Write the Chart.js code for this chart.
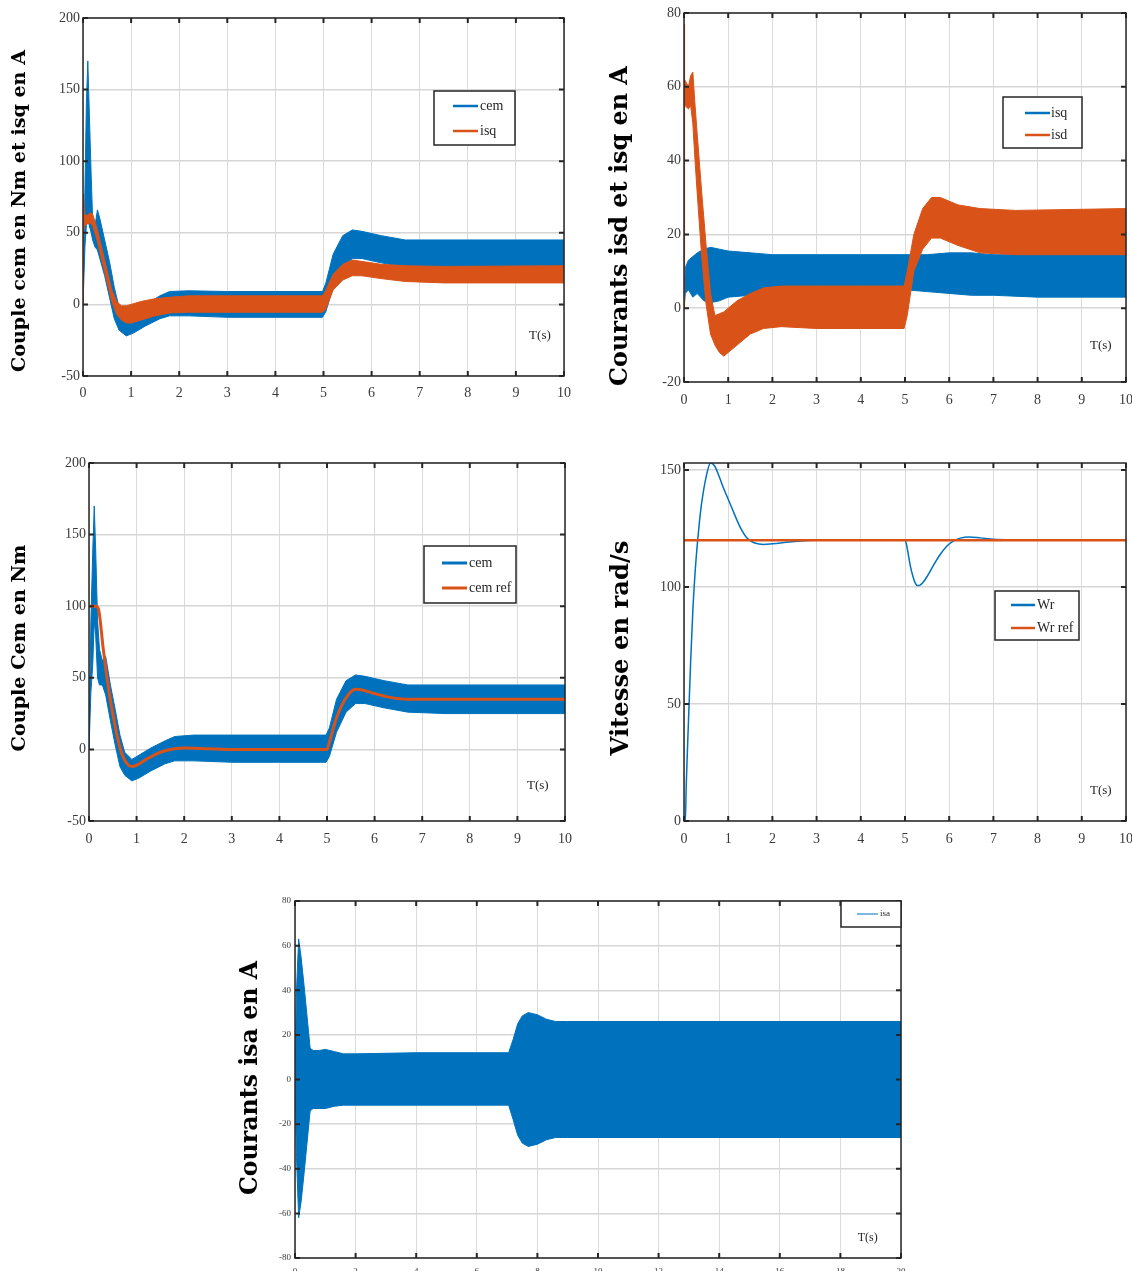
<!DOCTYPE html>
<html>
<head>
<meta charset="utf-8">
<script src="https://cdn.jsdelivr.net/npm/chart.js@4.4.1/dist/chart.umd.min.js"></script>
<style>
  body { margin: 0; background: #fff; width: 1132px; height: 1271px; position: relative; overflow: hidden; }
  .cell { position: absolute; }
</style>
</head>
<body>
<div class="cell" style="left:0px;top:0px"><canvas id="c1" width="580" height="420"></canvas></div>
<div class="cell" style="left:600px;top:0px"><canvas id="c2" width="532" height="420"></canvas></div>
<div class="cell" style="left:0px;top:450px"><canvas id="c3" width="580" height="410"></canvas></div>
<div class="cell" style="left:600px;top:450px"><canvas id="c4" width="532" height="410"></canvas></div>
<div class="cell" style="left:230px;top:890px"><canvas id="c5" width="680" height="381"></canvas></div>
<script>
// ---- donnees (enveloppes haute / basse des bandes bruitees) ----

// graphe 1 : cem et isq
const t1Cem  = [0, 0.04, 0.07, 0.1, 0.13, 0.17, 0.2, 0.25, 0.3, 0.35, 0.45, 0.55, 0.65, 0.75, 0.9, 1.05, 1.3, 1.6, 1.8, 2.2, 3, 4, 4.98, 5.05, 5.2, 5.4, 5.6, 5.8, 6.2, 6.7, 7.5, 10];
const cemHi1 = [0, 80, 140, 170, 135, 90, 60, 55, 66, 60, 45, 30, 12, -2, -7, -5, 0, 6, 9, 9.5, 9, 9, 9, 15, 35, 48, 52, 51, 48, 45, 45, 45];
const cemLo1 = [0, 40, 55, 60, 55, 50, 45, 40, 38, 32, 20, 5, -10, -18, -22, -20, -15, -10, -8, -8, -9, -9, -9, -5, 12, 26, 32, 32, 29, 26, 25, 25];
const t1Isq  = [0, 0.01, 0.03, 0.08, 0.15, 0.2, 0.3, 0.4, 0.5, 0.6, 0.7, 0.8, 0.9, 1.0, 1.2, 1.5, 1.8, 2.2, 3, 4, 4.98, 5.05, 5.2, 5.4, 5.6, 5.8, 6.2, 6.7, 7.5, 10];
const isqHi1 = [0, 77, 63, 62, 64, 63, 52, 38, 24, 10, 2, -1, -1, 0, 2, 4, 5, 6, 6, 6, 6, 10, 21, 28, 31, 30, 28, 27, 26.5, 27];
const isqLo1 = [0, 50, 55, 56, 57, 55, 44, 30, 16, 2, -7, -11, -13, -13, -11, -8, -6, -5.5, -5.5, -5.5, -5.5, -3, 10, 17, 20, 20, 18, 16, 15, 15];

// graphe 2 : isq et isd
const t2Isq  = [0, 0.03, 0.1, 0.2, 0.3, 0.45, 0.6, 0.8, 1.0, 1.5, 2, 3, 4, 5, 5.5, 6, 6.5, 7, 8, 10];
const isqHi2 = [0, 11, 13, 14, 15, 16, 16.5, 16, 15.5, 15, 14.5, 14.5, 14.5, 14.5, 14.5, 15, 15, 14.5, 14.5, 14.5];
const isqLo2 = [0, 4, 5, 3, 4, 2, 1.5, 2, 3, 3.5, 4.5, 5, 5, 5, 4.5, 4, 3.5, 3.5, 3, 3];
const t2Isd  = [0, 0.005, 0.02, 0.1, 0.15, 0.2, 0.25, 0.3, 0.4, 0.5, 0.6, 0.7, 0.8, 0.9, 1.0, 1.2, 1.5, 1.8, 2.2, 3, 4, 4.98, 5.05, 5.2, 5.4, 5.6, 5.8, 6.2, 6.7, 7.5, 10];
const isdHi2 = [0, 77, 62, 60, 63, 64, 55, 47, 31.5, 17, 4, -2, -1.5, -1, 0, 2, 4, 5.5, 6, 6, 6, 6, 10, 20, 27, 30, 30, 28, 27, 26.5, 27];
const isdLo2 = [0, 15, 55, 54, 55, 50, 40, 31, 14, 1, -7, -10, -12, -13, -12, -10, -7, -5.5, -5, -5.5, -5.5, -5.5, -2, 10, 16, 19, 19, 17, 15, 14.5, 14.5];

// graphe 3 : cem et cem ref
const t3Cem  = [0, 0.04, 0.08, 0.11, 0.14, 0.18, 0.22, 0.28, 0.35, 0.45, 0.55, 0.65, 0.75, 0.9, 1.05, 1.3, 1.6, 1.8, 2.2, 3, 4, 4.98, 5.05, 5.2, 5.4, 5.6, 5.8, 6.2, 6.7, 7.5, 10];
const cemHi3 = [0, 90, 140, 170, 140, 90, 70, 62, 65, 45, 28, 10, -2, -7, -4, 1, 6, 9, 10, 10, 10, 10, 15, 35, 48, 52, 51, 48, 45, 45, 45];
const cemLo3 = [0, 40, 60, 90, 80, 50, 45, 45, 38, 20, 3, -12, -18, -22, -20, -15, -10, -8, -8, -9, -9, -9, -5, 12, 26, 32, 32, 29, 26, 25, 25];
const t3Ref  = [0, 0.15, 0.2, 0.3, 0.4, 0.5, 0.6, 0.7, 0.8, 0.9, 1.0, 1.2, 1.5, 1.8, 2.0, 2.5, 3, 5, 5.05, 5.2, 5.4, 5.6, 5.8, 6.0, 6.3, 6.7, 7, 10];
const cemRef = [100, 100, 98, 70, 45, 25, 8, -4, -10, -12, -11, -7, -2, 0.5, 1, 0.5, 0, 0, 5, 22, 36, 42, 41, 39, 36.5, 35, 35, 35];

// graphe 4 : vitesse
const t4Wr = [0, 0.03, 0.05, 0.1, 0.15, 0.2, 0.25, 0.3, 0.35, 0.4, 0.5, 0.6, 0.7, 0.8, 0.9, 1.0, 1.1, 1.2, 1.3, 1.4, 1.5, 1.6, 1.8, 2.0, 2.5, 3, 5, 5.03, 5.07, 5.12, 5.18, 5.23, 5.28, 5.33, 5.4, 5.5, 5.65, 5.8, 5.95, 6.1, 6.25, 6.45, 6.7, 7, 7.5, 8, 10];
const wr   = [0, 0, 15, 42, 68, 90, 106, 118, 128, 136, 147, 153, 151.5, 147, 142, 137.5, 133, 128.5, 124.5, 121.5, 119.8, 118.8, 118.2, 118.5, 119.5, 120, 120, 118.5, 114.5, 109, 104.5, 101.8, 100.6, 100.7, 101.8, 104.5, 109.5, 114, 117.5, 119.7, 120.9, 121.4, 121, 120.4, 120.1, 120, 120];
const t4Ref = [0, 10];
const wrRef = [120, 120];

// graphe 5 : isa
const t5Isa = [0, 0.05, 0.12, 0.2, 0.3, 0.4, 0.5, 0.6, 0.8, 1.0, 1.3, 1.6, 2, 4, 6, 7.05, 7.2, 7.35, 7.5, 7.7, 8.0, 8.3, 8.6, 9, 10, 20];
const isaHi = [0, 40, 63, 55, 42, 28, 14, 13, 13, 13.5, 12.5, 11.5, 11.5, 12, 12, 12, 18, 25, 28.5, 30, 29, 27, 26, 26, 26, 26];
const isaLo = [0, -35, -62, -55, -42, -28, -14, -13, -13, -13, -12, -11.5, -11.5, -11.5, -11.5, -11.5, -18, -25, -28.5, -30, -29, -27, -26, -26, -26, -26];

// graduations
const xTicks10 = [0, 1, 2, 3, 4, 5, 6, 7, 8, 9, 10];
const xTicks20 = [0, 2, 4, 6, 8, 10, 12, 14, 16, 18, 20];
const yTicksCouple = [-50, 0, 50, 100, 150, 200];
const yTicksCourants = [-20, 0, 20, 40, 60, 80];
const yTicksVitesse = [0, 50, 100, 150];
const yTicksIsa = [-80, -60, -40, -20, 0, 20, 40, 60, 80];

// textes
const legend1 = ['cem', 'isq'];
const legend2 = ['isq', 'isd'];
const legend3 = ['cem', 'cem ref'];
const legend4 = ['Wr', 'Wr ref'];
const legend5 = ['isa'];

// ---- style ----
const BLUE = '#0072BD';
const ORANGE = '#D95319';
const serif = '"Liberation Serif", "DejaVu Serif", serif';
const titleFamily = '"DejaVu Serif", "Liberation Serif", serif';
const ink = '#262626';

function pts(t, v) {
  return t.map((x, i) => ({ x: x, y: v[i] }));
}

function band(t, hi, lo, color) {
  return [
    { data: pts(t, hi), borderColor: color, backgroundColor: color, borderWidth: 1, pointRadius: 0, fill: '+1' },
    { data: pts(t, lo), borderColor: color, borderWidth: 1, pointRadius: 0, fill: false }
  ];
}

function line(t, v, color, w) {
  return { data: pts(t, v), borderColor: color, borderWidth: w, pointRadius: 0, fill: false, cubicInterpolationMode: 'monotone' };
}

// titre vertical, taille ajustee a la longueur voulue
const sideTitle = {
  id: 'sideTitle',
  afterDraw(chart, args, o) {
    const ctx = chart.ctx;
    ctx.save();
    ctx.font = 'bold 20px ' + titleFamily;
    const size = 20 * o.length / ctx.measureText(o.text).width;
    ctx.font = 'bold ' + size.toFixed(2) + 'px ' + titleFamily;
    ctx.translate(o.x, o.y);
    ctx.rotate(-Math.PI / 2);
    ctx.textAlign = 'center';
    ctx.textBaseline = 'middle';
    ctx.fillStyle = '#000';
    ctx.fillText(o.text, 0, 0);
    ctx.restore();
  }
};

// cadre noir avec graduations vers l'interieur (style matlab)
const matlabBox = {
  id: 'matlabBox',
  afterDatasetsDraw(chart, args, o) {
    const { ctx, chartArea: a, scales: { x, y } } = chart;
    const L = o.len || 5;
    ctx.save();
    ctx.strokeStyle = ink;
    ctx.lineWidth = 2;
    ctx.beginPath();
    x.ticks.forEach(tk => {
      const px = x.getPixelForValue(tk.value);
      ctx.moveTo(px, a.bottom); ctx.lineTo(px, a.bottom - L);
      ctx.moveTo(px, a.top); ctx.lineTo(px, a.top + L);
    });
    y.ticks.forEach(tk => {
      const py = y.getPixelForValue(tk.value);
      ctx.moveTo(a.left, py); ctx.lineTo(a.left + L, py);
      ctx.moveTo(a.right, py); ctx.lineTo(a.right - L, py);
    });
    ctx.stroke();
    ctx.lineWidth = 1.5;
    ctx.strokeRect(a.left, a.top, a.width, a.height);
    ctx.restore();
  }
};

const boxLegend = {
  id: 'boxLegend',
  afterDraw(chart, args, o) {
    const ctx = chart.ctx;
    ctx.save();
    ctx.fillStyle = '#fff';
    ctx.fillRect(o.x, o.y, o.w, o.h);
    ctx.strokeStyle = ink;
    ctx.lineWidth = 1.5;
    ctx.strokeRect(o.x, o.y, o.w, o.h);
    ctx.font = o.size + 'px ' + serif;
    ctx.textAlign = 'left';
    ctx.textBaseline = 'middle';
    o.labels.forEach((txt, i) => {
      const yy = o.rows[i];
      ctx.strokeStyle = o.colors[i];
      ctx.lineWidth = o.widths[i];
      ctx.beginPath();
      ctx.moveTo(o.line[0], yy);
      ctx.lineTo(o.line[1], yy);
      ctx.stroke();
      ctx.fillStyle = ink;
      ctx.fillText(txt, o.textX, yy);
    });
    ctx.restore();
  }
};

// "T(s)" place en coordonnees des axes
const axisNote = {
  id: 'axisNote',
  afterDraw(chart, args, o) {
    const { ctx, scales: { x, y } } = chart;
    ctx.save();
    ctx.font = o.size + 'px ' + serif;
    ctx.fillStyle = ink;
    ctx.textAlign = 'center';
    ctx.textBaseline = 'middle';
    ctx.fillText(o.text, x.getPixelForValue(o.at[0]), y.getPixelForValue(o.at[1]));
    ctx.restore();
  }
};

function scales(o) {
  return {
    x: {
      type: 'linear', min: o.xr[0], max: o.xr[1],
      afterBuildTicks: s => { s.ticks = o.xt.map(v => ({ value: v })); },
      afterFit: s => { s.height = o.xh; s.paddingLeft = 0; s.paddingRight = 0; },
      grid: { color: '#dadada', lineWidth: 1, drawTicks: false },
      border: { display: false },
      ticks: { padding: o.xpad, maxRotation: 0, autoSkip: false, color: '#3a3a3a', font: { family: serif, size: o.fs } }
    },
    y: {
      type: 'linear', min: o.yr[0], max: o.yr[1],
      afterBuildTicks: s => { s.ticks = o.yt.map(v => ({ value: v })); },
      afterFit: s => { s.width = o.yw; s.paddingTop = 0; s.paddingBottom = 0; },
      grid: { color: '#d6d6d6', lineWidth: 1.5, drawTicks: false },
      border: { display: false },
      ticks: { padding: o.ypad, autoSkip: false, color: '#3a3a3a', font: { family: serif, size: o.fs } }
    }
  };
}

function makeChart(id, datasets, sc, pad, plug) {
  return new Chart(document.getElementById(id), {
    type: 'line',
    data: { datasets: datasets },
    options: {
      responsive: false,
      animation: false,
      events: [],
      layout: { padding: pad },
      scales: scales(sc),
      plugins: Object.assign({ legend: { display: false }, tooltip: { enabled: false } }, plug)
    },
    plugins: [matlabBox, boxLegend, axisNote, sideTitle]
  });
}

// graphe 1
makeChart('c1',
  [...band(t1Isq, isqHi1, isqLo1, ORANGE), ...band(t1Cem, cemHi1, cemLo1, BLUE)],
  { xr: [0, 10], xt: xTicks10, yr: [-50, 200], yt: yTicksCouple, xh: 44, yw: 83, xpad: 9, ypad: 3, fs: 14 },
  { top: 18, right: 16, left: 0, bottom: 0 },
  {
    sideTitle: { text: 'Couple cem en Nm et isq en A', x: 20, y: 211, length: 322 },
    boxLegend: { x: 434, y: 91, w: 81, h: 54, line: [453, 478], textX: 480, rows: [106, 131], size: 14,
                 labels: legend1, colors: [BLUE, ORANGE], widths: [2.5, 2.5] },
    axisNote: { text: 'T(s)', at: [9.5, -22], size: 13 }
  });

// graphe 2
makeChart('c2',
  [...band(t2Isd, isdHi2, isdLo2, ORANGE), ...band(t2Isq, isqHi2, isqLo2, BLUE)],
  { xr: [0, 10], xt: xTicks10, yr: [-20, 80], yt: yTicksCourants, xh: 38, yw: 84, xpad: 10, ypad: 3, fs: 14 },
  { top: 13, right: 6, left: 0, bottom: 0 },
  {
    sideTitle: { text: 'Courants isd et isq en A', x: 21, y: 226, length: 320 },
    boxLegend: { x: 403, y: 97, w: 79, h: 51, line: [425, 450], textX: 451, rows: [113, 135], size: 14,
                 labels: legend2, colors: [BLUE, ORANGE], widths: [2.5, 2.5] },
    axisNote: { text: 'T(s)', at: [9.43, -10.2], size: 13 }
  });

// graphe 3
makeChart('c3',
  [line(t3Ref, cemRef, ORANGE, 3), ...band(t3Cem, cemHi3, cemLo3, BLUE)],
  { xr: [0, 10], xt: xTicks10, yr: [-50, 200], yt: yTicksCouple, xh: 39, yw: 89, xpad: 10, ypad: 3, fs: 14 },
  { top: 13, right: 15, left: 0, bottom: 0 },
  {
    sideTitle: { text: 'Couple Cem en Nm', x: 20, y: 198, length: 207 },
    boxLegend: { x: 424, y: 96, w: 92, h: 57, line: [442, 467], textX: 469, rows: [113, 138], size: 14,
                 labels: legend3, colors: [BLUE, ORANGE], widths: [3, 3] },
    axisNote: { text: 'T(s)', at: [9.43, -25.6], size: 13 }
  });

// graphe 4
makeChart('c4',
  [line(t4Ref, wrRef, ORANGE, 2.5), line(t4Wr, wr, BLUE, 1.5)],
  { xr: [0, 10], xt: xTicks10, yr: [0, 153], yt: yTicksVitesse, xh: 39, yw: 84, xpad: 10, ypad: 3, fs: 14 },
  { top: 13, right: 6, left: 0, bottom: 0 },
  {
    sideTitle: { text: 'Vitesse en rad/s', x: 22, y: 198, length: 215 },
    boxLegend: { x: 395, y: 141, w: 84, h: 49, line: [411, 435], textX: 437, rows: [155, 178], size: 14,
                 labels: legend4, colors: [BLUE, ORANGE], widths: [2.5, 2.5] },
    axisNote: { text: 'T(s)', at: [9.43, 13.2], size: 13 }
  });

// graphe 5
makeChart('c5',
  [...band(t5Isa, isaHi, isaLo, BLUE)],
  { xr: [0, 20], xt: xTicks20, yr: [-80, 80], yt: yTicksIsa, xh: 13, yw: 65, xpad: 8, ypad: 4, fs: 9 },
  { top: 11, right: 9, left: 0, bottom: 0 },
  {
    sideTitle: { text: 'Courants isa en A', x: 21, y: 188, length: 234 },
    boxLegend: { x: 611, y: 11, w: 60, h: 26, line: [627, 648], textX: 650, rows: [24], size: 9,
                 labels: legend5, colors: [BLUE], widths: [1] },
    axisNote: { text: 'T(s)', at: [18.9, -71], size: 12 }
  });
</script>
</body>
</html>
